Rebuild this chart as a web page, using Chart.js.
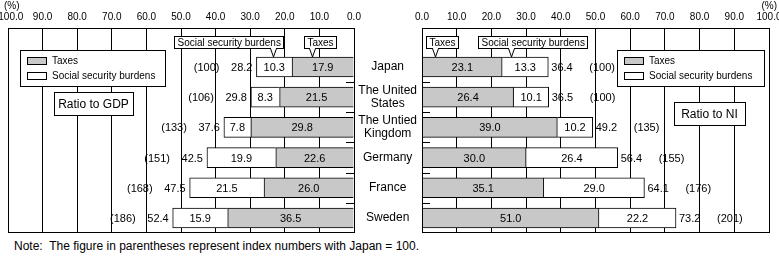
<!DOCTYPE html>
<html>
<head>
<meta charset="utf-8">
<script src="https://cdn.jsdelivr.net/npm/chart.js@4"></script>
<style>
  body { margin: 0; background: #fff; }
  #wrap { position: relative; width: 779px; height: 256px; font-family: "Liberation Sans", Arial, sans-serif; }
  #gdpChart { position: absolute; left: 0; top: 0; }
  #niChart { position: absolute; left: 356px; top: 0; }
  #note { position: absolute; left: 14px; top: 239px; font-size: 12px; white-space: pre; color: #000; }
</style>
</head>
<body>
<div id="wrap">
  <canvas id="gdpChart" width="362" height="236"></canvas>
  <canvas id="niChart" width="423" height="236"></canvas>
  <div id="note">Note:  The figure in parentheses represent index numbers with Japan = 100.</div>
</div>
<script>
const countries = [['Japan'], ['The United', 'States'], ['The Untied', 'Kingdom'], ['Germany'], ['France'], ['Sweden']];

// ratio to GDP
const gdpTaxes = [17.9, 21.5, 29.8, 22.6, 26.0, 36.5];
const gdpSocial = [10.3, 8.3, 7.8, 19.9, 21.5, 15.9];
const gdpTotal = [28.2, 29.8, 37.6, 42.5, 47.5, 52.4];
const gdpIndex = [100, 106, 133, 151, 168, 186];

// ratio to NI
const niTaxes = [23.1, 26.4, 39.0, 30.0, 35.1, 51.0];
const niSocial = [13.3, 10.1, 10.2, 26.4, 29.0, 22.2];
const niTotal = [36.4, 36.5, 49.2, 56.4, 64.1, 73.2];
const niIndex = [100, 100, 135, 155, 176, 201];

const FONT = "'Liberation Sans', Arial, sans-serif";
const NUM_FONT = "'Liberation Sans Narrow', 'Liberation Sans', Arial, sans-serif";
const GRAY = '#c8c8c8';
const NI_LEFT = 356;

Chart.defaults.font.family = FONT;
Chart.defaults.color = '#000';

function points(values) {
  return values.map((v, i) => ({ x: v, y: i }));
}

function box(ctx, x, y, w, h) {
  ctx.fillStyle = '#fff';
  ctx.fillRect(x, y, w, h);
  ctx.strokeRect(x + 0.5, y + 0.5, w, h);
}

function callout(ctx, text, tipX, tipY, dx) {
  ctx.font = '10px ' + FONT;
  const w = Math.round(ctx.measureText(text).width) + 6, h = 12, top = 36;
  const left = Math.round(tipX) + dx;
  box(ctx, left, top, w, h);
  const bx = Math.round(tipX) + 0.5, by = top + h + 0.5;
  ctx.fillStyle = '#fff';
  ctx.beginPath();
  ctx.moveTo(bx - 3, by - 1.5); ctx.lineTo(bx, tipY); ctx.lineTo(bx + 3, by - 1.5);
  ctx.closePath();
  ctx.fill();
  ctx.beginPath();
  ctx.moveTo(bx - 3, by); ctx.lineTo(bx, tipY); ctx.lineTo(bx + 3, by);
  ctx.stroke();
  ctx.fillStyle = '#000';
  ctx.textAlign = 'left';
  ctx.textBaseline = 'middle';
  ctx.fillText(text, left + 3.5, top + h / 2 + 1);
}

// frame, short marks between countries, value labels and boxes
const decor = {
  id: 'decor',
  afterDatasetsDraw(chart, args, o) {
    const { ctx, chartArea: a } = chart;
    const xs = chart.scales.x, ys = chart.scales.y;
    const left = o.side === 'left';
    ctx.save();
    ctx.strokeStyle = '#000';
    ctx.lineWidth = 1;
    ctx.strokeRect(Math.round(a.left) + 0.5, Math.round(a.top) + 0.5,
      Math.round(a.right) - Math.round(a.left), Math.round(a.bottom) - Math.round(a.top));

    const edge = left ? Math.round(a.right) : Math.round(a.left);
    ctx.beginPath();
    for (let i = 0; i < countries.length - 1; i++) {
      const py = Math.round(ys.getPixelForValue(i + 0.5)) + 0.5;
      ctx.moveTo(edge, py);
      ctx.lineTo(edge + (left ? -8 : 8), py);
    }
    ctx.stroke();

    // numbers inside bars
    ctx.fillStyle = '#000';
    ctx.textBaseline = 'middle';
    ctx.font = '11px ' + NUM_FONT;
    ctx.textAlign = 'center';
    [0, 1].forEach(d => {
      chart.getDatasetMeta(d).data.forEach((bar, i) => {
        const p = bar.getProps(['x', 'y', 'base'], true);
        ctx.fillText(chart.data.datasets[d].data[i].x.toFixed(1), (p.x + p.base) / 2, p.y + 1);
      });
    });
    // totals and index numbers
    ctx.textAlign = left ? 'right' : 'left';
    chart.getDatasetMeta(1).data.forEach((bar, i) => {
      const p = bar.getProps(['x', 'y'], true);
      ctx.fillText(o.total[i].toFixed(1), p.x + (left ? -4 : 3), p.y + 1);
      ctx.fillText('(' + o.index[i] + ')', p.x + (left ? -37 : 41), p.y + 1);
    });

    // callouts over the first bar
    const tipY = ys.getPixelForValue(0) - 10;
    o.callouts.forEach(c => callout(ctx, c.text, xs.getPixelForValue(c.value), tipY, c.dx));

    // legend box
    const L = o.legend;
    box(ctx, L.x, L.y, L.w, L.h);
    ctx.fillStyle = GRAY;
    ctx.fillRect(L.x + 7, L.y + 7, 19, 7);
    ctx.strokeRect(L.x + 7.5, L.y + 7.5, 19, 7);
    ctx.fillStyle = '#fff';
    ctx.fillRect(L.x + 7, L.y + 22, 19, 7);
    ctx.strokeRect(L.x + 7.5, L.y + 22.5, 19, 7);
    ctx.fillStyle = '#000';
    ctx.font = '10px ' + FONT;
    ctx.textAlign = 'left';
    ctx.fillText('Taxes', L.x + 32, L.y + 11);
    ctx.fillText('Social security burdens', L.x + 32, L.y + 26);

    // ratio box
    const R = o.ratio;
    box(ctx, R.x, R.y, R.w, R.h);
    ctx.fillStyle = '#000';
    ctx.font = '12px ' + FONT;
    ctx.textAlign = 'center';
    ctx.fillText(R.text, R.x + R.w / 2, R.y + R.h / 2 + 1);

    // (%)
    ctx.font = '10px ' + FONT;
    ctx.textAlign = left ? 'left' : 'right';
    ctx.fillText('(%)', o.pct, 6);
    ctx.restore();
  }
};

function makeChart(id, side, taxes, social, extra) {
  const left = side === 'left';
  return new Chart(document.getElementById(id), {
    type: 'bar',
    data: {
      datasets: [
        { label: 'Taxes', data: points(taxes), backgroundColor: GRAY },
        { label: 'Social security burdens', data: points(social), backgroundColor: '#fff' }
      ]
    },
    options: {
      indexAxis: 'y',
      responsive: false,
      animation: false,
      layout: { padding: left ? { left: 8, right: 8, top: 0, bottom: 4 } : { left: 0, right: 10, top: 0, bottom: 4 } },
      datasets: {
        bar: { barThickness: 20, borderColor: '#000', borderWidth: 1, borderSkipped: 'start' }
      },
      scales: {
        x: {
          position: 'top',
          reverse: left,
          stacked: true,
          min: 0,
          max: 100,
          ticks: {
            stepSize: 10,
            padding: 5,
            maxRotation: 0,
            autoSkip: false,
            font: { size: 10, family: NUM_FONT },
            // the outer 100.0 on the left would be cut by the page edge
            callback: v => (left && v === 100 ? '  ' : '') + v.toFixed(1)
          },
          grid: { color: '#000', drawTicks: false },
          border: { color: '#000' },
          afterFit: s => { s.height = 28; s.paddingLeft = 0; s.paddingRight = 0; }
        },
        y: {
          type: 'linear',
          display: !left,
          position: 'left',
          reverse: true,
          stacked: true,
          offset: false,
          min: -1.291,
          max: 5.464,
          afterBuildTicks: s => { s.ticks = countries.map((c, i) => ({ value: i })); },
          ticks: {
            crossAlign: 'center',
            padding: 5,
            font: { size: 12, lineHeight: 1.05 },
            callback: v => countries[v]
          },
          grid: { display: false, drawTicks: false, offset: false },
          border: { display: false },
          afterFit: s => {
            s.width = left ? 0 : 66;
            s.paddingTop = 0;
            s.paddingBottom = 0;
          }
        }
      },
      plugins: {
        legend: { display: false },
        tooltip: { enabled: false },
        decor: extra
      }
    },
    plugins: [decor]
  });
}

makeChart('gdpChart', 'left', gdpTaxes, gdpSocial, {
  side: 'left',
  total: gdpTotal,
  index: gdpIndex,
  callouts: [
    { text: 'Social security burdens', value: 23.4, dx: -99 },
    { text: 'Taxes', value: 12.1, dx: -8 }
  ],
  legend: { x: 20, y: 50, w: 145, h: 36 },
  ratio: { x: 54, y: 92, w: 79, h: 23, text: 'Ratio to GDP' },
  pct: 4
});

makeChart('niChart', 'right', niTaxes, niSocial, {
  side: 'right',
  total: niTotal,
  index: niIndex,
  callouts: [
    { text: 'Taxes', value: 3.75, dx: -9 },
    { text: 'Social security burdens', value: 25.6, dx: -33 }
  ],
  legend: { x: 617 - NI_LEFT, y: 50, w: 147, h: 36 },
  ratio: { x: 674 - NI_LEFT, y: 102, w: 71, h: 23, text: 'Ratio to NI' },
  pct: 777 - NI_LEFT
});
</script>
</body>
</html>
